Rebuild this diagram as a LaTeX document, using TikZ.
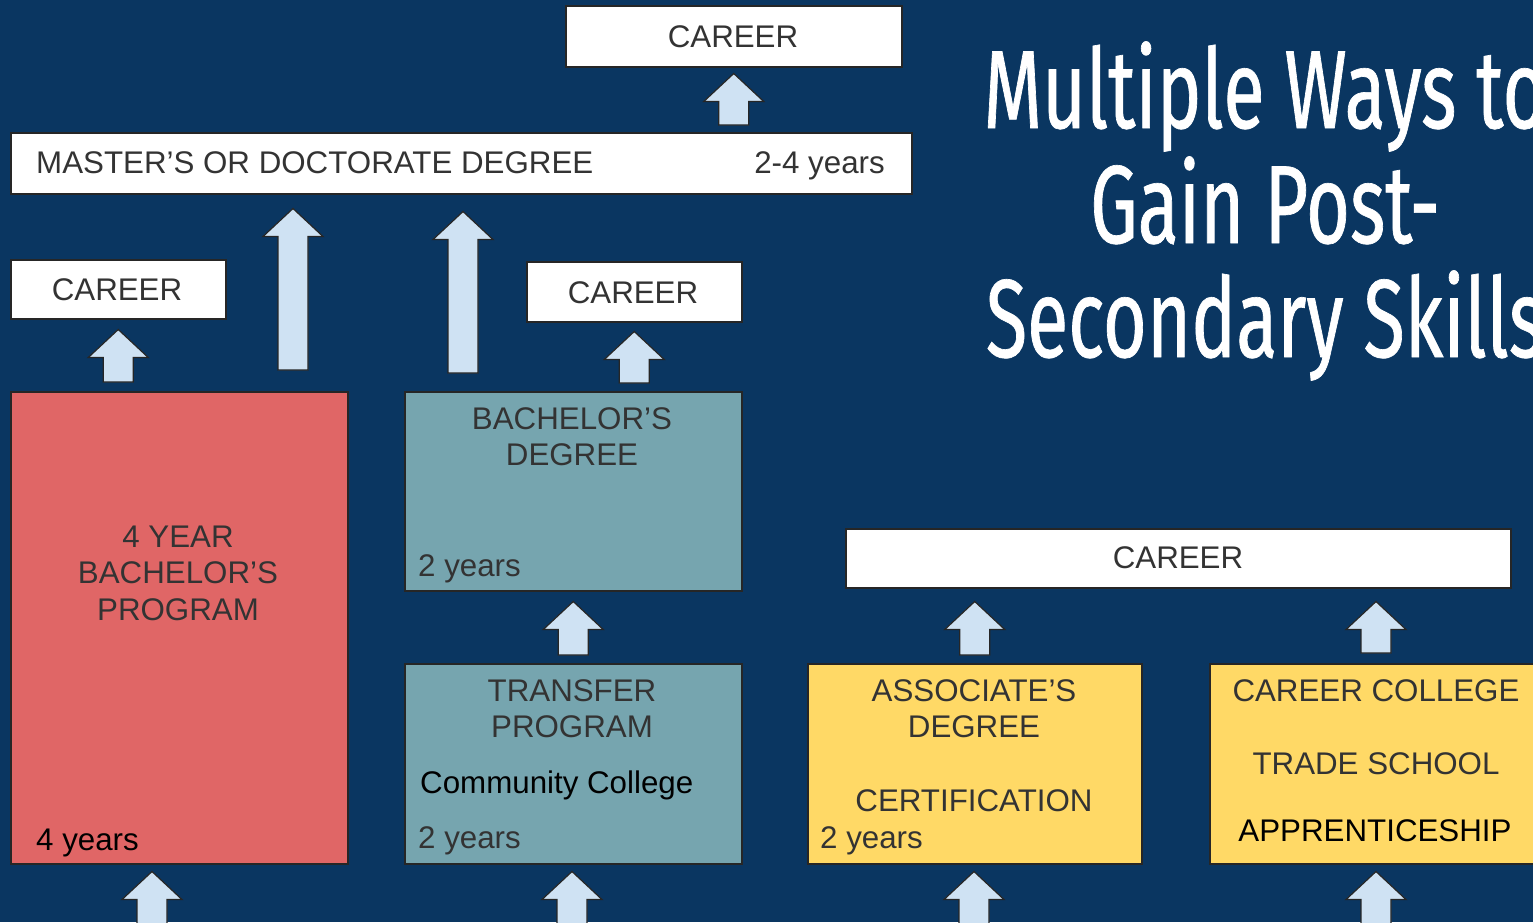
\documentclass[tikz,border=0pt]{standalone}
\usepackage{fontspec}
\setmainfont{Liberation Sans}
\newfontfamily\titlefont[FakeStretch=0.68,FakeBold=0.6]{Fira Sans}
\usepackage{tikz}
\usetikzlibrary{calc}

\definecolor{navy}{RGB}{10,54,97}
\definecolor{redbox}{RGB}{224,102,102}
\definecolor{tealbox}{RGB}{118,165,175}
\definecolor{yellowbox}{RGB}{255,217,102}
\definecolor{arrowblue}{RGB}{207,226,243}

\tikzset{
	box/.style={draw=black!85,line width=1.5pt,anchor=north west,inner sep=0pt},
	careerbox/.style={box,fill=white},
	lbl/.style={anchor=base,inner sep=0pt,text=black!80,font=\fontsize{31.3}{36}\selectfont},
	blockarr/.style={draw=black!85,line width=1.2pt,fill=arrowblue,line join=miter},
}

% block arrow: x and foot from #1, tip height from #2
\newcommand{\blockup}[2]{%
	\draw[blockarr] let \p1=(#1), \p2=(#2) in
		(\x1-15pt,\y1) -- (\x1-15pt,\y2-28pt) -- (\x1-30pt,\y2-28pt) -- (\x1,\y2)
		-- (\x1+30pt,\y2-28pt) -- (\x1+15pt,\y2-28pt) -- (\x1+15pt,\y1) -- cycle;}

\begin{document}
\begin{tikzpicture}[x=1pt,y=-1pt]
		\useasboundingbox (0,0) rectangle (1533,922);
		\fill[navy] (0,0) rectangle (1533,922);
		\clip (0,0) rectangle (1533,922);
%		\draw[help lines,step=100] (0,0) grid (1533,922);
		\path (152,930) coordinate (red_in);
		\path (572,930) coordinate (transfer_in);
		\path (974,930) coordinate (associate_in);
		\path (1376,930) coordinate (college_in);

		% boxes
		\path (565,5) node(career_top) [careerbox,minimum width=336pt,minimum height=61pt] {};
		\path (10,132) node(master) [careerbox,minimum width=901pt,minimum height=61pt] {};
		\path (10,259) node(career_left) [careerbox,minimum width=215pt,minimum height=59pt] {};
		\path (526,261) node(career_mid) [careerbox,minimum width=215pt,minimum height=60pt] {};
		\path (845,528) node(career_right) [careerbox,minimum width=665pt,minimum height=59pt] {};
		\path (10,391) node(red) [box,fill=redbox,minimum width=337pt,minimum height=472pt] {};
		\path (404,391) node(bachelor) [box,fill=tealbox,minimum width=337pt,minimum height=199pt] {};
		\path (404,663) node(transfer) [box,fill=tealbox,minimum width=337pt,minimum height=200pt] {};
		\path (807,663) node(associate) [box,fill=yellowbox,minimum width=334pt,minimum height=200pt] {};
		\path (1209,663) node(college) [box,fill=yellowbox,minimum width=340pt,minimum height=200pt] {};

		% texts
		\path (733,47) node(career_top_txt) [lbl] {CAREER};
		\path (36,173) node(master_txt) [lbl,anchor=base west] {MASTER’S OR DOCTORATE DEGREE};
		\path (885,173) node(master_yrs) [lbl,anchor=base east] {2-4 years};
		\path (117,300) node(career_left_txt) [lbl] {CAREER};
		\path (633,303) node(career_mid_txt) [lbl] {CAREER};
		\path (1178,568) node(career_right_txt) [lbl] {CAREER};
		\path (178,547) node(red_txt1) [lbl] {4 YEAR};
		\path (178,583) node(red_txt2) [lbl] {BACHELOR’S};
		\path (178,620) node(red_txt3) [lbl] {PROGRAM};
		\path (36,850) node(red_yrs) [lbl,anchor=base west,text=black] {4 years};
		\path (572,429) node(bachelor_txt1) [lbl] {BACHELOR’S};
		\path (572,465) node(bachelor_txt2) [lbl] {DEGREE};
		\path (418,576) node(bachelor_yrs) [lbl,anchor=base west] {2 years};
		\path (572,701) node(transfer_txt1) [lbl] {TRANSFER};
		\path (572,737) node(transfer_txt2) [lbl] {PROGRAM};
		\path (420,793) node(transfer_cc) [lbl,anchor=base west,text=black] {Community College};
		\path (418,848) node(transfer_yrs) [lbl,anchor=base west] {2 years};
		\path (974,701) node(associate_txt1) [lbl] {ASSOCIATE’S};
		\path (974,737) node(associate_txt2) [lbl] {DEGREE};
		\path (974,811) node(associate_cert) [lbl] {CERTIFICATION};
		\path (820,848) node(associate_yrs) [lbl,anchor=base west] {2 years};
		\path (1376,701) node(college_txt1) [lbl] {CAREER COLLEGE};
		\path (1376,774) node(college_txt2) [lbl] {TRADE SCHOOL};
		\path (1375,841) node(college_txt3) [lbl,text=black] {APPRENTICESHIP};

		% title
		\path (1265,128) node(title_1) [lbl,text=white,font=\titlefont\fontsize{111}{115}\selectfont] {Multiple Ways to};
		\path (1265,243) node(title_2) [lbl,text=white,font=\titlefont\fontsize{111}{115}\selectfont] {Gain Post-};
		\path (1265,357) node(title_3) [lbl,text=white,font=\titlefont\fontsize{111}{115}\selectfont] {Secondary Skills};

		% arrows
		\blockup{$(career_top.south |- master.north)+(0,-7)$}{$(career_top.south)+(0,6)$}
		\blockup{$(career_left.south |- red.north)+(0,-9)$}{$(career_left.south)+(0,10)$}
		\blockup{$(career_mid.south |- bachelor.north)+(0,-8)$}{$(career_mid.south)+(0,9)$}
		\blockup{$(red.north west)+(283,-21)$}{$(master.south west)+(283,14)$}
		\blockup{$(bachelor.north west)+(59,-18)$}{$(master.south west)+(453,17)$}
		\blockup{$(transfer.north)+(0,-8)$}{$(bachelor.south)+(0,10)$}
		\blockup{$(associate.north)+(0,-8)$}{$(career_right.south)+(0,13)$}
		\blockup{$(college.north west)+(167,-10)$}{$(career_right.south)+(0,13)$}
		\blockup{red_in}{$(red.south)+(0,7)$}
		\blockup{transfer_in}{$(transfer.south)+(0,7)$}
		\blockup{associate_in}{$(associate.south)+(0,7)$}
		\blockup{college_in}{$(college.south)+(0,7)$}
	\end{tikzpicture}
\end{document}
